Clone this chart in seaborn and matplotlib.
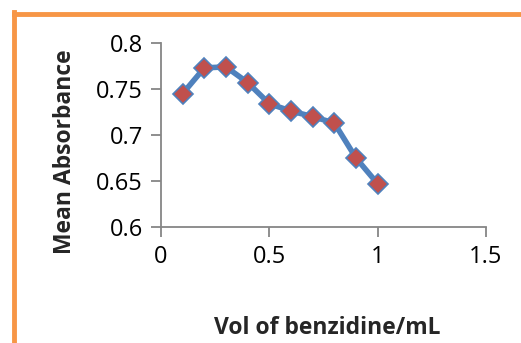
import matplotlib
matplotlib.use("Agg")
import matplotlib.pyplot as plt
from matplotlib.lines import Line2D
from matplotlib.ticker import FuncFormatter
import seaborn as sns
import pandas as pd

vol = [0.1, 0.2, 0.3, 0.4, 0.5, 0.6, 0.7, 0.8, 0.9, 1.0]
absorbance = [0.745, 0.773, 0.774, 0.757, 0.734, 0.726, 0.720, 0.713, 0.675, 0.647]
x_ticks = [0, 0.5, 1, 1.5]
y_ticks = [0.6, 0.65, 0.7, 0.75, 0.8]

sns.set_style("white")
plt.rcParams['font.family'] = ['Open Sans', 'DejaVu Sans']

df = pd.DataFrame({"vol": vol, "abs": absorbance})

fig = plt.figure(figsize=(5.21, 3.43), dpi=100)
ax = fig.add_axes([161/521, 1-227/343, (486-161)/521, (227-43)/343])

sns.lineplot(data=df, x="vol", y="abs", ax=ax, color="#4F81BD", linewidth=4,
             marker="D", markersize=10.5, markerfacecolor="#C0504D",
             markeredgecolor="#4F81BD", markeredgewidth=1.2)

ax.set_xlim(0, 1.5)
ax.set_ylim(0.6, 0.8)
ax.set_xticks(x_ticks)
ax.set_yticks(y_ticks)
fmt = FuncFormatter(lambda v, p: ("%g" % round(v, 3)))
ax.xaxis.set_major_formatter(fmt)
ax.yaxis.set_major_formatter(fmt)

for s in ["top", "right"]:
    ax.spines[s].set_visible(False)
for s in ["left", "bottom"]:
    ax.spines[s].set_color("#868686")
    ax.spines[s].set_linewidth(1.3)
ax.tick_params(axis="both", which="major", direction="out", length=7, width=1.3,
               color="#868686", labelsize=17, labelcolor="black", pad=6)
ax.tick_params(bottom=True, left=True)
ax.set_xlabel("")
ax.set_ylabel("")
fig.text(327/521, 1-328/343, "Vol of benzidine/mL", fontsize=16.5, fontweight="bold",
         ha="center", va="center")
fig.text(65/521, 1-152/343, "Mean Absorbance", fontsize=16.5, fontweight="bold",
         ha="center", va="center", rotation=90)

orange = "#F79646"
fig.add_artist(Line2D([13.5/521, 13.5/521], [0, 1-11.5/343], transform=fig.transFigure,
                      color=orange, linewidth=3.5, solid_capstyle="projecting"))
fig.add_artist(Line2D([13.5/521, 1], [1-13.5/343, 1-13.5/343], transform=fig.transFigure,
                      color=orange, linewidth=3.5, solid_capstyle="projecting"))

fig.savefig("out.png", dpi=100)
